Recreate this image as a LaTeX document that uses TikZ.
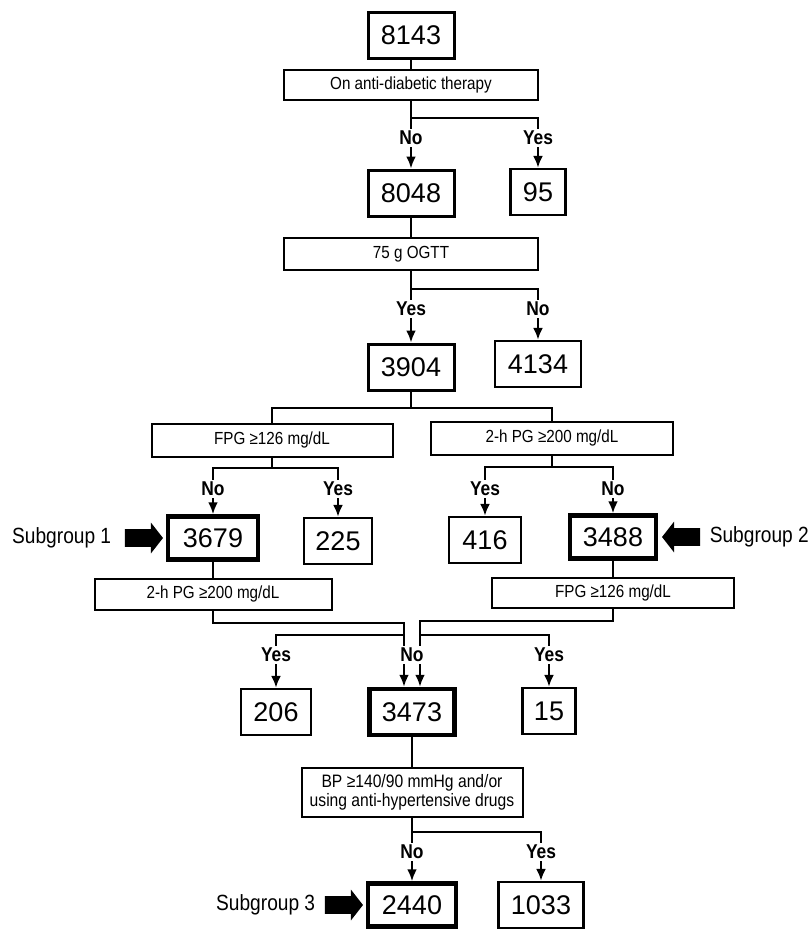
\documentclass[tikz,border=0pt]{standalone}
\usepackage{fontspec}
\setmainfont{Liberation Sans}
\newfontfamily\narrow[FakeStretch=0.87]{Liberation Sans}
\usetikzlibrary{positioning,arrows.meta,shapes.arrows}

\begin{document}
\begin{tikzpicture}[x=1pt, y=-1pt,
    num/.style={draw=black, line width=2.2pt, minimum height=46pt, inner sep=0pt, font=\fontsize{27}{30}\selectfont},
    big/.style={num, line width=3pt},
    sub/.style={num, line width=4.5pt, minimum height=43pt},
    q/.style={draw=black, line width=2pt, inner sep=0pt, font=\narrow\fontsize{17.5}{19}\selectfont},
    yn/.style={inner sep=1pt, font=\narrow\bfseries\fontsize{20}{22}\selectfont},
    blk/.style={single arrow, fill=black, inner xsep=0pt, inner ysep=7.5pt, minimum height=38pt,
                single arrow head extend=6.5pt, single arrow tip angle=104},
    grp/.style={inner sep=0pt, font=\narrow\fontsize{22}{24}\selectfont},
    line width=2.8pt, >={Latex[length=12pt,width=10pt]}]
        \useasboundingbox (0,0) rectangle (808,930);

        % first split
        \node[big, minimum width=86pt] (n8143) at (411,35) {8143};
        \node[q, minimum width=254pt, minimum height=30pt] (q1) at (411,85) {On anti-diabetic therapy};
        \coordinate (b1) at (411,118);
        \node[yn] (l1no) at (411,138) {No};
        \node[yn] (l1yes) at (538,138) {Yes};
        \node[big, minimum width=86pt] (n8048) at (411,193) {8048};
        \node[num, minimum width=55pt] (n95) at (538,192) {95};

        \draw (n8143) -- (q1);
        \draw (q1) -- (l1no);
        \draw (b1) -| (l1yes);
        \draw[->] (l1no) -- (n8048);
        \draw[->] (l1yes) -- (n95);

        % OGTT
        \node[q, minimum width=254pt, minimum height=32pt] (q2) at (411,254) {75 g OGTT};
        \coordinate (b2) at (411,289);
        \node[yn] (l2yes) at (411,309) {Yes};
        \node[yn] (l2no) at (538,309) {No};
        \node[big, minimum width=86pt] (n3904) at (411,367) {3904};
        \node[num, minimum width=86pt] (n4134) at (538,364) {4134};

        \draw (n8048) -- (q2);
        \draw (q2) -- (l2yes);
        \draw (b2) -| (l2no);
        \draw[->] (l2yes) -- (n3904);
        \draw[->] (l2no) -- (n4134);

        % FPG and 2-h PG
        \coordinate (b3) at (411,408);
        \node[q, minimum width=241pt, minimum height=33pt] (q3) at (272,440) {FPG ≥126 mg/dL};
        \node[q, minimum width=242pt, minimum height=33pt] (q4) at (552,438) {2-h PG ≥200 mg/dL};
        \draw (n3904) -- (b3);
        \draw (b3) -| (q3);
        \draw (b3) -| (q4);

        \coordinate (b4) at (272,468);
        \node[yn] (l3no) at (213,489) {No};
        \node[yn] (l3yes) at (338,489) {Yes};
        \coordinate (b5) at (552,467);
        \node[yn] (l4yes) at (485,489) {Yes};
        \node[yn] (l4no) at (613,489) {No};

        \node[sub, minimum width=90pt] (n3679) at (213,538) {3679};
        \node[num, minimum width=68pt] (n225) at (338,541) {225};
        \node[num, minimum width=72pt] (n416) at (485,540) {416};
        \node[sub, minimum width=86pt] (n3488) at (613,537) {3488};

        \draw (q3) -- (b4);
        \draw (b4) -| (l3no);
        \draw (b4) -| (l3yes);
        \draw[->] (l3no) -- (n3679);
        \draw[->] (l3yes) -- (n225);
        \draw (q4) -- (b5);
        \draw (b5) -| (l4yes);
        \draw (b5) -| (l4no);
        \draw[->] (l4yes) -- (n416);
        \draw[->] (l4no) -- (n3488);

        \node[blk, left=1pt of n3679] (a1) {};
        \node[grp, left=11pt of a1] (g1) {Subgroup 1};
        \node[blk, shape border rotate=180, right=2pt of n3488] (a2) {};
        \node[grp, right=7pt of a2] (g2) {Subgroup 2};

        % second tests
        \node[q, minimum width=237pt, minimum height=31pt] (q5) at (213,594) {2-h PG ≥200 mg/dL};
        \node[q, minimum width=242pt, minimum height=30pt] (q6) at (613,593) {FPG ≥126 mg/dL};
        \draw (n3679) -- (q5);
        \draw (n3488) -- (q6);

        \coordinate (m1) at (404,623);
        \coordinate (m2) at (420,621);
        \coordinate (m3) at (404,635);
        \coordinate (m4) at (420,635);
        \node[yn] (l5no) at (412,655) {No};
        \node[yn] (l5yes) at (276,655) {Yes};
        \node[yn] (l6yes) at (549,655) {Yes};

        \node[num, minimum width=70pt] (n206) at (276,712) {206};
        \node[sub, minimum width=85pt, minimum height=46pt] (n3473) at (412,712) {3473};
        \node[num, minimum width=53pt] (n15) at (549,711) {15};

        \draw (q5) |- (m1) -- (m1 |- l5no.north);
        \draw (q6) |- (m2) -- (m2 |- l5no.north);
        \draw (m3) -| (l5yes);
        \draw (m4) -| (l6yes);
        \draw[->] (m1 |- l5no.south) -- (m1 |- n3473.north);
        \draw[->] (m2 |- l5no.south) -- (m2 |- n3473.north);
        \draw[->] (l5yes) -- (n206);
        \draw[->] (l6yes) -- (n15);

        % blood pressure
        \node[q, minimum width=221pt, minimum height=49pt, align=center, font=\narrow\fontsize{18}{19}\selectfont] (q7) at (412,792) {BP ≥140/90 mmHg and/or\\using anti-hypertensive drugs};
        \coordinate (b7) at (412,832);
        \node[yn] (l7no) at (412,852) {No};
        \node[yn] (l7yes) at (541,852) {Yes};
        \node[sub, minimum width=88pt] (n2440) at (412,905) {2440};
        \node[num, minimum width=85pt] (n1033) at (541,905) {1033};

        \draw (n3473) -- (q7);
        \draw (q7) -- (l7no);
        \draw (b7) -| (l7yes);
        \draw[->] (l7no) -- (n2440);
        \draw[->] (l7yes) -- (n1033);

        \node[blk, left=1pt of n2440] (a3) {};
        \node[grp, left=7pt of a3] (g3) {Subgroup 3};

    \end{tikzpicture}
\end{document}
